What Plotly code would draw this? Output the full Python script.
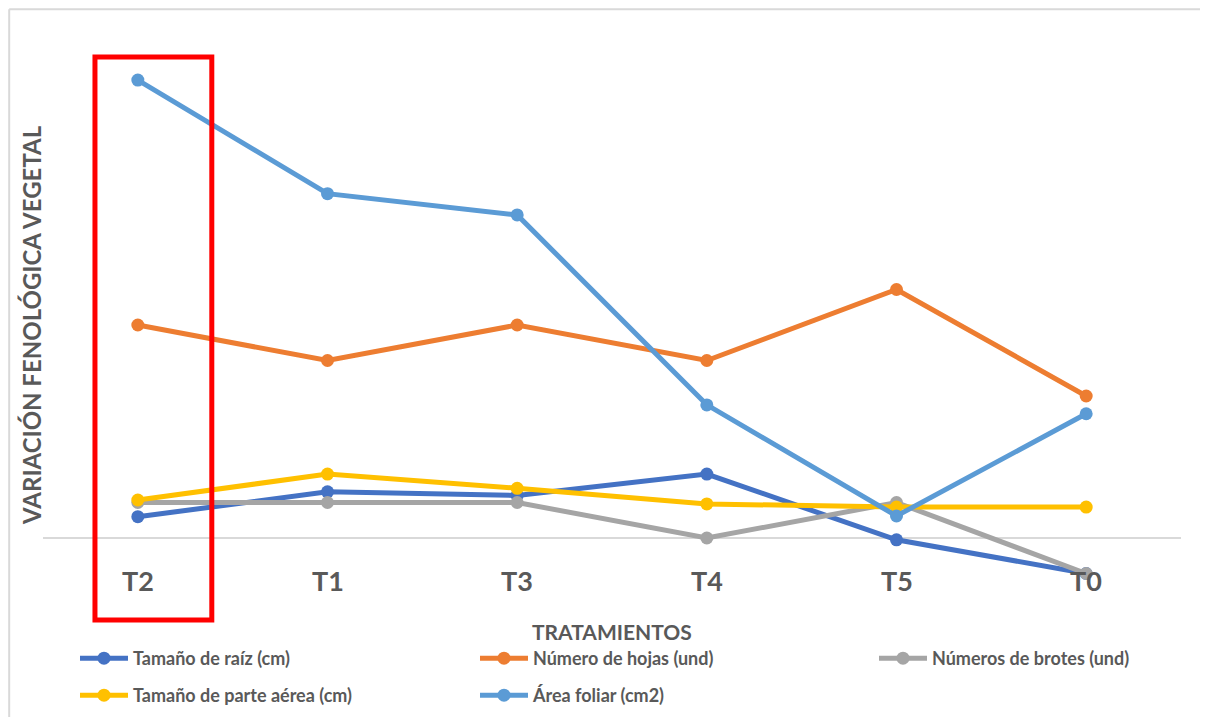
import plotly.graph_objects as go

tratamientos = ["T2", "T1", "T3", "T4", "T5", "T0"]
raiz = [0.6, 1.3, 1.2, 1.8, -0.05, -1.0]
hojas = [6.0, 5.0, 6.0, 5.0, 7.0, 4.0]
brotes = [1.0, 1.0, 1.0, 0.0, 1.0, -1.0]
aerea = [1.07, 1.8, 1.4, 0.96, 0.87, 0.87]
foliar = [12.9, 9.7, 9.1, 3.75, 0.62, 3.5]

series_names = ["Tamaño de raíz (cm)", "Número de hojas (und)", "Números de brotes (und)",
                "Tamaño de parte aérea (cm)", "Área foliar (cm2)"]
series_values = [raiz, hojas, brotes, aerea, foliar]
series_colors = ["#4472C4", "#ED7D31", "#A5A5A5", "#FFC000", "#5B9BD5"]

# page has an 8px body margin; work in reference-pixel coordinates
OFF = 8
W, H = 1192, 709
L, R, T, B = 35, 19, 32, 127
pw, ph = W - L - R, H - T - B
def px(x): return (x - OFF - L) / pw
def py(y): return (H - B - (y - OFF)) / ph

FONT = "Lato"
TXT = "#595959"

# legend slots (reference pixels): item origin x, top y
legend_pos = [(75, 640), (475, 640), (874, 640), (75, 677), (475, 677)]

fig = go.Figure()
layout_legends = {}
for i, (name, vals, col) in enumerate(zip(series_names, series_values, series_colors)):
    lg = "legend" if i == 0 else f"legend{i+1}"
    fig.add_trace(go.Scatter(
        x=tratamientos, y=vals, name=name, mode="lines+markers",
        line=dict(color=col, width=5),
        marker=dict(color=col, size=13),
        legend=lg,
    ))
    lx, ly = legend_pos[i]
    layout_legends[lg] = dict(
        x=px(lx), y=py(ly), xanchor="left", yanchor="top",
        orientation="h",
        font=dict(family=FONT, size=18, color=TXT, weight=700),
        itemwidth=48, bgcolor="rgba(0,0,0,0)",
    )

annotations = [
    dict(x=t, y=py(580), xref="x", yref="paper", text=t, showarrow=False,
         yanchor="middle", font=dict(family=FONT, size=27, color=TXT, weight=700))
    for t in tratamientos
]
annotations.append(dict(x=px(612), y=py(631), xref="paper", yref="paper",
                        text="TRATAMIENTOS", showarrow=False, yanchor="middle",
                        font=dict(family=FONT, size=21, color=TXT, weight=700)))
annotations.append(dict(x=px(31), y=py(325), xref="paper", yref="paper",
                        text="VARIACIÓN FENOLÓGICA VEGETAL", showarrow=False,
                        textangle=-90, xanchor="center", yanchor="middle",
                        font=dict(family=FONT, size=24, color=TXT, weight=700)))

shapes = [
    dict(type="line", xref="paper", yref="paper", x0=px(9.2), x1=px(1300),
         y0=py(9.2), y1=py(9.2), line=dict(color="#D9D9D9", width=2), layer="below"),
    dict(type="line", xref="paper", yref="paper", x0=px(9.2), x1=px(9.2),
         y0=py(9.2), y1=py(800), line=dict(color="#D9D9D9", width=2), layer="below"),
    dict(type="rect", xref="x", yref="paper", x0=-0.226, x1=0.39,
         y0=py(620), y1=py(57), line=dict(color="#FF0000", width=5)),
]

zero_px = 538 - OFF
per_unit = 35.5
ymax = (zero_px - T) / per_unit
ymin = -(H - B - zero_px) / per_unit

fig.update_layout(
    width=W, height=H,
    margin=dict(l=L, r=R, t=T, b=B, autoexpand=False),
    paper_bgcolor="white", plot_bgcolor="white",
    xaxis=dict(type="category", range=[-0.5, 5.5], showticklabels=False,
               showgrid=False, showline=False, zeroline=False, ticks=""),
    yaxis=dict(range=[ymin, ymax], showticklabels=False, showgrid=False,
               showline=False, zeroline=True, zerolinecolor="#D9D9D9",
               zerolinewidth=2, ticks=""),
    annotations=annotations,
    shapes=shapes,
    showlegend=True,
    **layout_legends,
)

fig.write_html("out.html")
